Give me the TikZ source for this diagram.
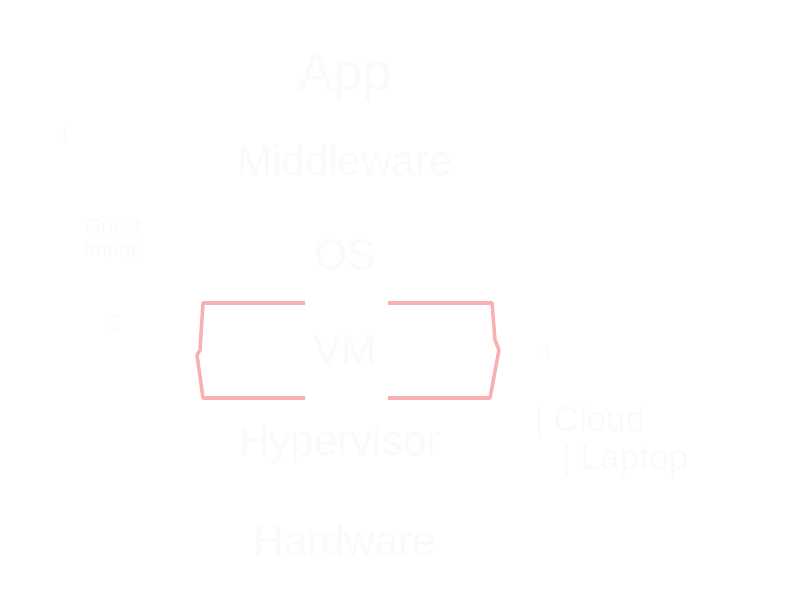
\documentclass[tikz,border=0pt]{standalone}
\usepackage{fontspec}
\setmainfont{Liberation Sans}
\definecolor{faint}{RGB}{249,252,246}
\definecolor{boxred}{RGB}{240,80,80}
\tikzset{
  label/.style={text=faint, font=\fontsize{24}{26}\selectfont},
  small/.style={text=faint, font=\fontsize{12}{13}\selectfont},
  bracket/.style={draw=boxred, line width=2pt, opacity=0.45, line join=round}
}
\begin{document}
\begin{tikzpicture}
    % Fix the page size
    \useasboundingbox (0,0) rectangle (16,12);
    
    % The layers of the stack
    \node[label, font=\fontsize{30}{32}\selectfont] (app) at (6.9,10.44) {App};
    \node[label] (mid) at (6.9,8.8) {Middleware};
    \node[label] (os) at (6.9,6.9) {OS};
    \node[label] (vm) at (6.9,5.0) {VM};
    \node[label] (hyp) at (6.8,3.1) {Hypervisor};
    \node[label] (hw) at (6.9,1.2) {Hardware};
    
    % Notes on the left
    \node[small] (one) at (1.3,9.3) {1};
    \node[small, align=center] (guest) at (2.26,7.2) {Guest\\Image};
    \node[small] (two) at (2.3,5.56) {2};
    
    % Notes on the right
    \node[small] (three) at (10.9,4.96) {3};
    \node[label, font=\fontsize{20}{22}\selectfont] (cloud) at (11.8,3.55) {| Cloud};
    \node[label, font=\fontsize{20}{22}\selectfont] (laptop) at (12.5,2.8) {| Laptop};
    
    % Red box round the VM (left half)
    \draw[bracket] (6.1,5.94) -- (4.06,5.94) -- (4.0,5.0) -- (3.94,4.9)
        -- (4.06,4.04) -- (6.1,4.04);
    
    % Red box round the VM (right half)
    \draw[bracket] (7.76,5.94) -- (9.84,5.94) -- (9.9,5.2) -- (9.98,5.0)
        -- (9.8,4.04) -- (7.76,4.04);
    
\end{tikzpicture}
\end{document}
